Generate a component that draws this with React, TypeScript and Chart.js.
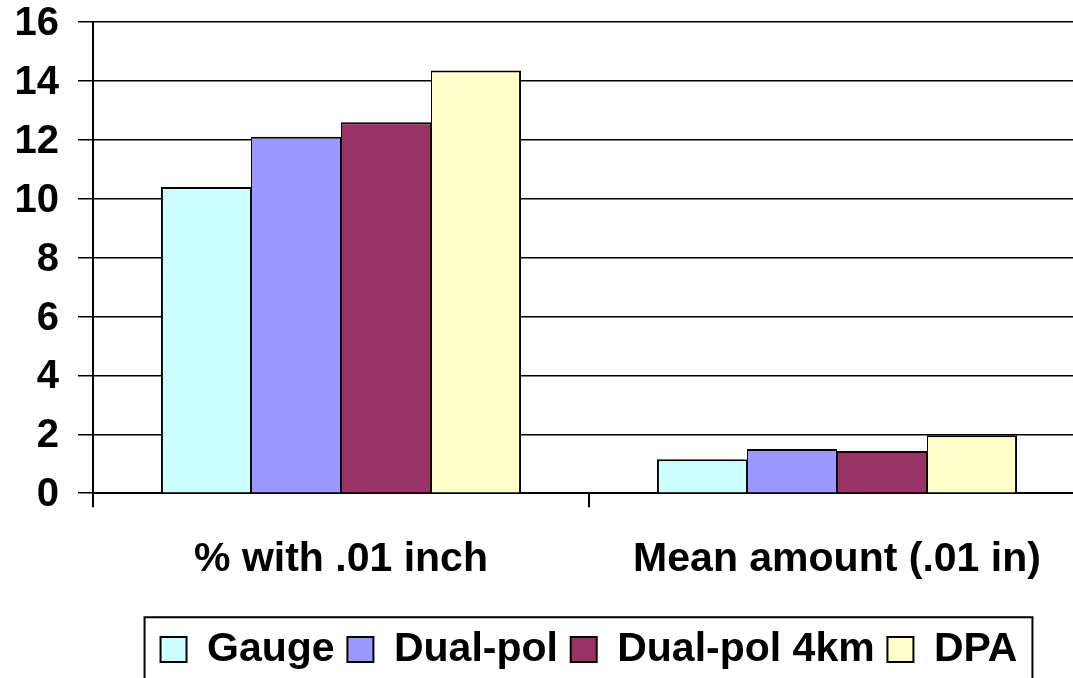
import { useEffect, useRef } from "react";
import { Chart, registerables } from "chart.js";

Chart.register(...registerables);

const categories = ["% with .01 inch", "Mean amount (.01 in)"];
const seriesNames = ["Gauge", "Dual-pol", "Dual-pol 4km", "DPA"];
const gaugeValues = [10.4, 1.15];
const dualPolValues = [12.1, 1.5];
const dualPol4kmValues = [12.6, 1.43];
const dpaValues = [14.35, 1.97];
const seriesColors = ["#CCFFFF", "#9999FF", "#993366", "#FFFFCC"];
const yMin = 0;
const yMax = 16;
const yStep = 2;

const FONT = "'Liberation Sans', Arial, Helvetica, sans-serif";

const legendBorder = {
  id: "legendBorder",
  afterDraw(chart: any) {
    const lg = chart.legend;
    const hb = lg && lg.legendHitBoxes;
    if (!hb || !hb.length) return;
    const left = hb[0].left - 16;
    const last = hb[hb.length - 1];
    const right = last.left + last.width + 15;
    const top = lg.top + 1;
    const ctx = chart.ctx;
    ctx.save();
    ctx.strokeStyle = "#000";
    ctx.lineWidth = 2;
    ctx.beginPath();
    ctx.moveTo(left, chart.height + 20);
    ctx.lineTo(left, top);
    ctx.lineTo(right, top);
    ctx.lineTo(right, chart.height + 20);
    ctx.stroke();
    ctx.restore();
  },
};

export default function App() {
  const ref = useRef<HTMLCanvasElement | null>(null);

  useEffect(() => {
    if (!ref.current) return;
    const allValues = [gaugeValues, dualPolValues, dualPol4kmValues, dpaValues];
    const n = seriesNames.length;
    const datasets = seriesNames.map((name, i) => ({
      label: name,
      data: allValues[i],
      backgroundColor: seriesColors[i],
      borderColor: "#000",
      borderWidth: {
        top: 2,
        left: i === 0 ? 2 : 1,
        right: i === n - 1 ? 2 : 1,
        bottom: 0,
      },
      borderSkipped: false as any,
      categoryPercentage: 0.726,
      barPercentage: 1,
    }));

    const chart = new Chart(ref.current, {
      type: "bar",
      data: { labels: categories, datasets },
      plugins: [legendBorder],
      options: {
        animation: false,
        responsive: false,
        maintainAspectRatio: false,
        devicePixelRatio: 1,
        layout: { padding: { top: 22, left: 0, right: 0, bottom: 0 } },
        plugins: {
          tooltip: { enabled: false },
          legend: {
            display: true,
            position: "bottom",
            fullSize: false,
            labels: {
              color: "#000",
              boxWidth: 26,
              boxHeight: 25,
              padding: 12.8,
              font: { family: FONT, size: 41, weight: "bold" },
              generateLabels(chart: any) {
                const items = Chart.defaults.plugins.legend.labels.generateLabels(chart);
                return items.map((it: any) => ({ ...it, lineWidth: 2, strokeStyle: "#000" }));
              },
            },
          },
        },
        scales: {
          x: {
            afterFit(scale: any) {
              scale.height = 123;
            },
            grid: {
              display: true,
              drawOnChartArea: false,
              drawTicks: true,
              tickLength: 14,
              color: "#000",
              lineWidth: 2,
            },
            border: { display: true, color: "#000", width: 2 },
            ticks: {
              color: "#000",
              padding: 28,
              maxRotation: 0,
              autoSkip: false,
              font: { family: FONT, size: 41, weight: "bold" },
            },
          },
          y: {
            min: yMin,
            max: yMax,
            afterFit(scale: any) {
              scale.width = 93;
            },
            grid: {
              color: "#000",
              lineWidth: 1.5,
              drawTicks: true,
              tickLength: 15,
            },
            border: { display: true, color: "#000", width: 2 },
            ticks: {
              stepSize: yStep,
              color: "#000",
              padding: 19,
              labelOffset: 2,
              font: { family: FONT, size: 40, weight: "bold", lineHeight: 0.1 },
            },
          },
        },
      },
    });
    return () => chart.destroy();
  }, []);

  return (
    <div
      style={{
        position: "fixed",
        left: 0,
        top: 0,
        width: 1073,
        height: 678,
        overflow: "hidden",
        background: "#fff",
      }}
    >
      <canvas ref={ref} width={1085} height={680} style={{ width: 1085, height: 680, display: "block" }} />
    </div>
  );
}
